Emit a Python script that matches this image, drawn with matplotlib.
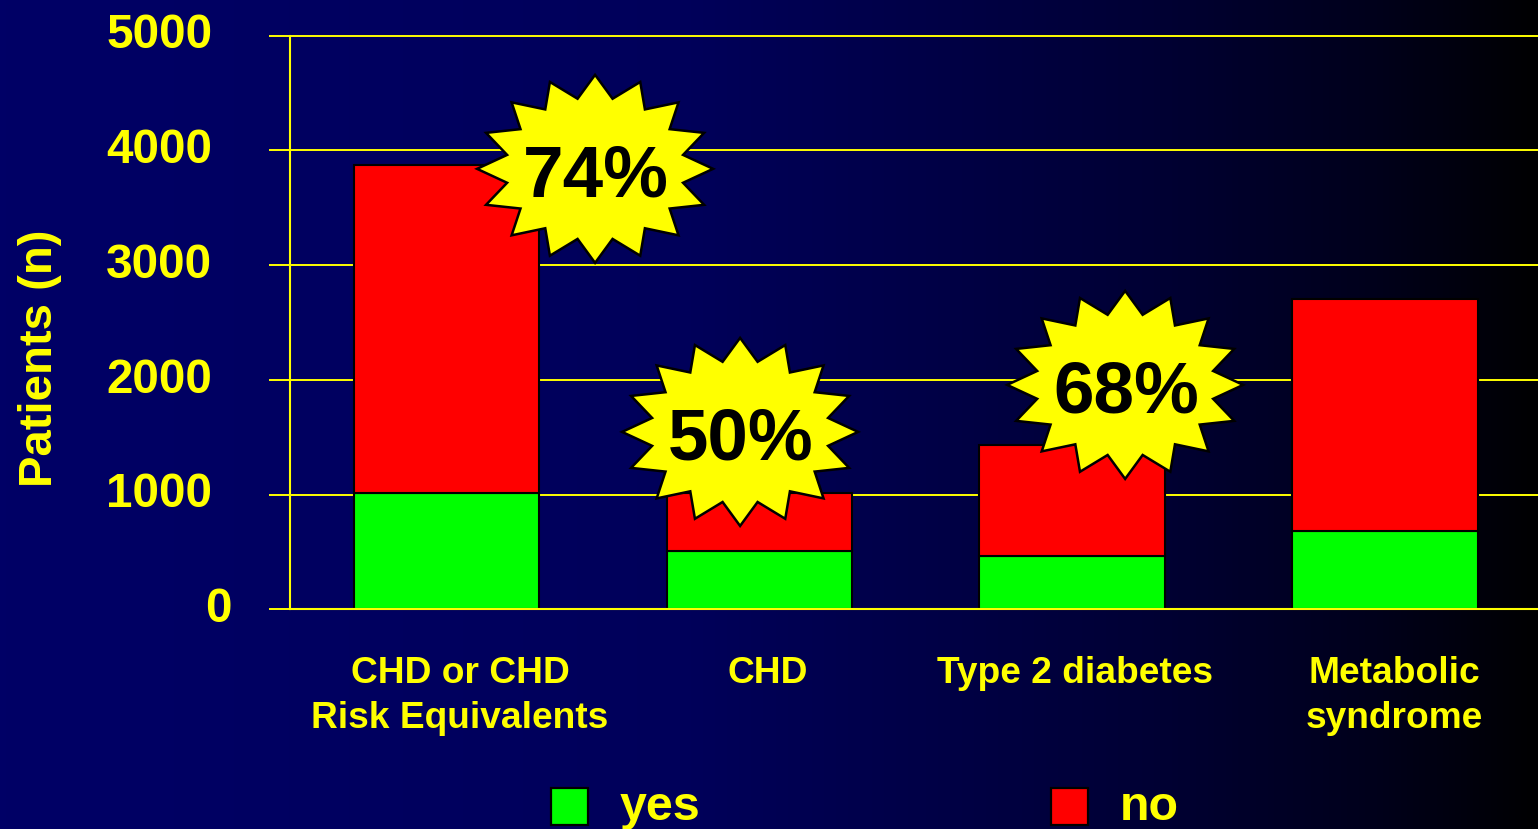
import numpy as np
import matplotlib
matplotlib.use('Agg')
import matplotlib.pyplot as plt
from matplotlib.colors import LinearSegmentedColormap
from matplotlib.patches import Polygon, Rectangle
from matplotlib.transforms import ScaledTranslation

plt.rcParams['font.family'] = ['Liberation Sans', 'DejaVu Sans']
plt.rcParams['font.weight'] = 'bold'

YELLOW = '#ffff00'
DPI = 100
W, H = 1538, 829

categories = ['CHD or CHD\nRisk Equivalents', 'CHD', 'Type 2 diabetes', 'Metabolic\nsyndrome']
yes_values = [1012, 506, 462, 680]
no_values = [2862, 506, 969, 2025]
y_ticks = [0, 1000, 2000, 3000, 4000, 5000]
star_labels = ['74%', '50%', '68%']


def star_points(cx, cy, rx=118, ry=94, inner=0.76, n=16):
    # alternating outer / inner radius, starts at the top point
    ang = np.pi / 2 + np.arange(2 * n) * np.pi / n
    r = np.where(np.arange(2 * n) % 2 == 0, 1.0, inner)
    return np.column_stack([cx + rx * r * np.cos(ang), cy - ry * r * np.sin(ang)])


# the extra fraction stops the pixel size rounding down to 828
fig = plt.figure(figsize=((W + 0.2) / DPI, (H + 0.2) / DPI), dpi=DPI)

# background gradient, navy to black
bg = fig.add_axes([0, 0, 1, 1], zorder=0)
cmap = LinearSegmentedColormap.from_list('bg', [(0, '#000066'), (0.45, '#00005a'), (0.75, '#000034'),
                                                (0.9, '#00001a'), (1, '#000002')])
bg.imshow(np.linspace(0, 1, 512).reshape(1, -1), cmap=cmap, aspect='auto', extent=[0, 1, 0, 1])
bg.axis('off')

# main axes, pixel box 290..1538 x 36..609
ax = fig.add_axes([290 / W, 1 - 609.3 / H, (W - 290) / W, 573.4 / H], zorder=1)
ax.patch.set_alpha(0)
x = np.arange(len(categories))
ax.bar(x, yes_values, width=0.592, color='#00ff00', edgecolor='black', linewidth=1.5, zorder=3)
ax.bar(x, no_values, width=0.592, bottom=yes_values, color='#ff0000', edgecolor='black', linewidth=1.5, zorder=3)
ax.set_xlim(-0.5, 3.49)
ax.set_ylim(0, 5000)
ax.set_yticks(y_ticks)
ax.set_xticks([])
ax.grid(axis='y', color=YELLOW, linewidth=1.4, zorder=1, clip_on=False)
ax.set_axisbelow(True)
for s in ['top', 'right']:
    ax.spines[s].set_visible(False)
for s in ['left', 'bottom']:
    ax.spines[s].set_color(YELLOW)
    ax.spines[s].set_linewidth(1.5)
    ax.spines[s].set_zorder(5)
ax.tick_params(axis='y', length=15, width=1.4, color=YELLOW, labelcolor=YELLOW, labelsize=34.3, pad=41)
for val, tick in zip(y_ticks, ax.yaxis.get_major_ticks()):
    tick.label1.set_fontweight('bold')
    dx = 19 if val == 0 else 0
    tick.label1.set_transform(tick.label1.get_transform()
                              + ScaledTranslation(dx / DPI, 5 / DPI, fig.dpi_scale_trans))

# overlay in pixel coordinates for the autoshapes and slide text
ov = fig.add_axes([0, 0, 1, 1], zorder=2)
ov.set_xlim(0, W)
ov.set_ylim(H, 0)
ov.axis('off')

for (cx, cy), lab in zip([(595, 169), (740, 432), (1125, 385)], star_labels):
    ov.add_patch(Polygon(star_points(cx, cy), closed=True, facecolor=YELLOW, edgecolor='black',
                         linewidth=1.8, joinstyle='miter'))
    ov.text(cx + 1, cy + 8, lab, fontsize=52.5, fontweight='bold', color='black', ha='center', va='center')

for cx, lab in zip([460, 768, 1075, 1394], categories):
    ov.text(cx, 656, lab, fontsize=26.7, fontweight='bold', color=YELLOW, ha='center', va='top', linespacing=1.36)

ov.text(40, 358, 'Patients (n)', fontsize=34, fontweight='bold', color=YELLOW, rotation=90, ha='center', va='center')

for px, c, lab in [(551, '#00ff00', 'yes'), (1051, '#ff0000', 'no')]:
    ov.add_patch(Rectangle((px, 788), 37, 37, facecolor=c, edgecolor='black', linewidth=1.6))
    ov.text(px + 69, 820, lab, fontsize=34.8, fontweight='bold', color=YELLOW, ha='left', va='baseline')

fig.savefig('out.png', dpi=DPI)
